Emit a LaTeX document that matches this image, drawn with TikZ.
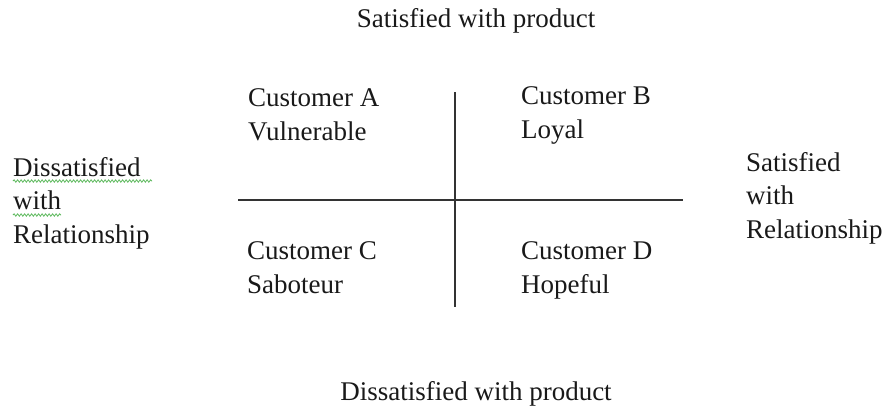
\documentclass[tikz,border=0pt]{standalone}
\usepackage{fontspec}
\setmainfont{Liberation Serif}
\usetikzlibrary{decorations.pathmorphing}
\definecolor{squig}{HTML}{5CB85C}
\tikzset{
  lbl/.style={anchor=base west, inner sep=0pt, align=left, font=\fontsize{27}{33.5}\selectfont, text=black!90},
  ctr/.style={anchor=base, inner sep=0pt, font=\fontsize{27}{33.5}\selectfont, text=black!90},
  axis/.style={line width=1.3pt, draw=black!80},
  wavy/.style={draw=squig, line width=0.8pt, decorate, decoration={snake, amplitude=1.2pt, segment length=3.5pt}}
}
\begin{document}
\begin{tikzpicture}[x=1pt,y=-1pt]
\useasboundingbox (0,0) rectangle (887,410);
\coordinate (vt) at (455,92);
\coordinate (vb) at (455,307);
\coordinate (hl) at (238,200);
\coordinate (hr) at (683,200);
\draw[axis] (vt) -- (vb);
\draw[axis] (hl) -- (hr);
\node[ctr] (top) at (476,27) {Satisfied with product};
\node[ctr] (bot) at (476,400) {Dissatisfied with product};
\node[lbl] (a) at (248,140) {Customer A\\Vulnerable};
\node[lbl] (b) at (521,138) {Customer B\\Loyal};
\node[lbl] (c) at (247,293) {Customer C\\Saboteur};
\node[lbl] (d) at (521,293) {Customer D\\Hopeful};
\node[lbl] (left) at (13,243) {Dissatisfied\\with\\Relationship};
\node[lbl] (right) at (746,238) {Satisfied\\with\\Relationship};
\coordinate (s1a) at (13,181);
\coordinate (s1b) at (152,181);
\coordinate (s2a) at (13,215);
\coordinate (s2b) at (61,215);
\draw[wavy] (s1a) -- (s1b);
\draw[wavy] (s2a) -- (s2b);
\end{tikzpicture}
\end{document}
